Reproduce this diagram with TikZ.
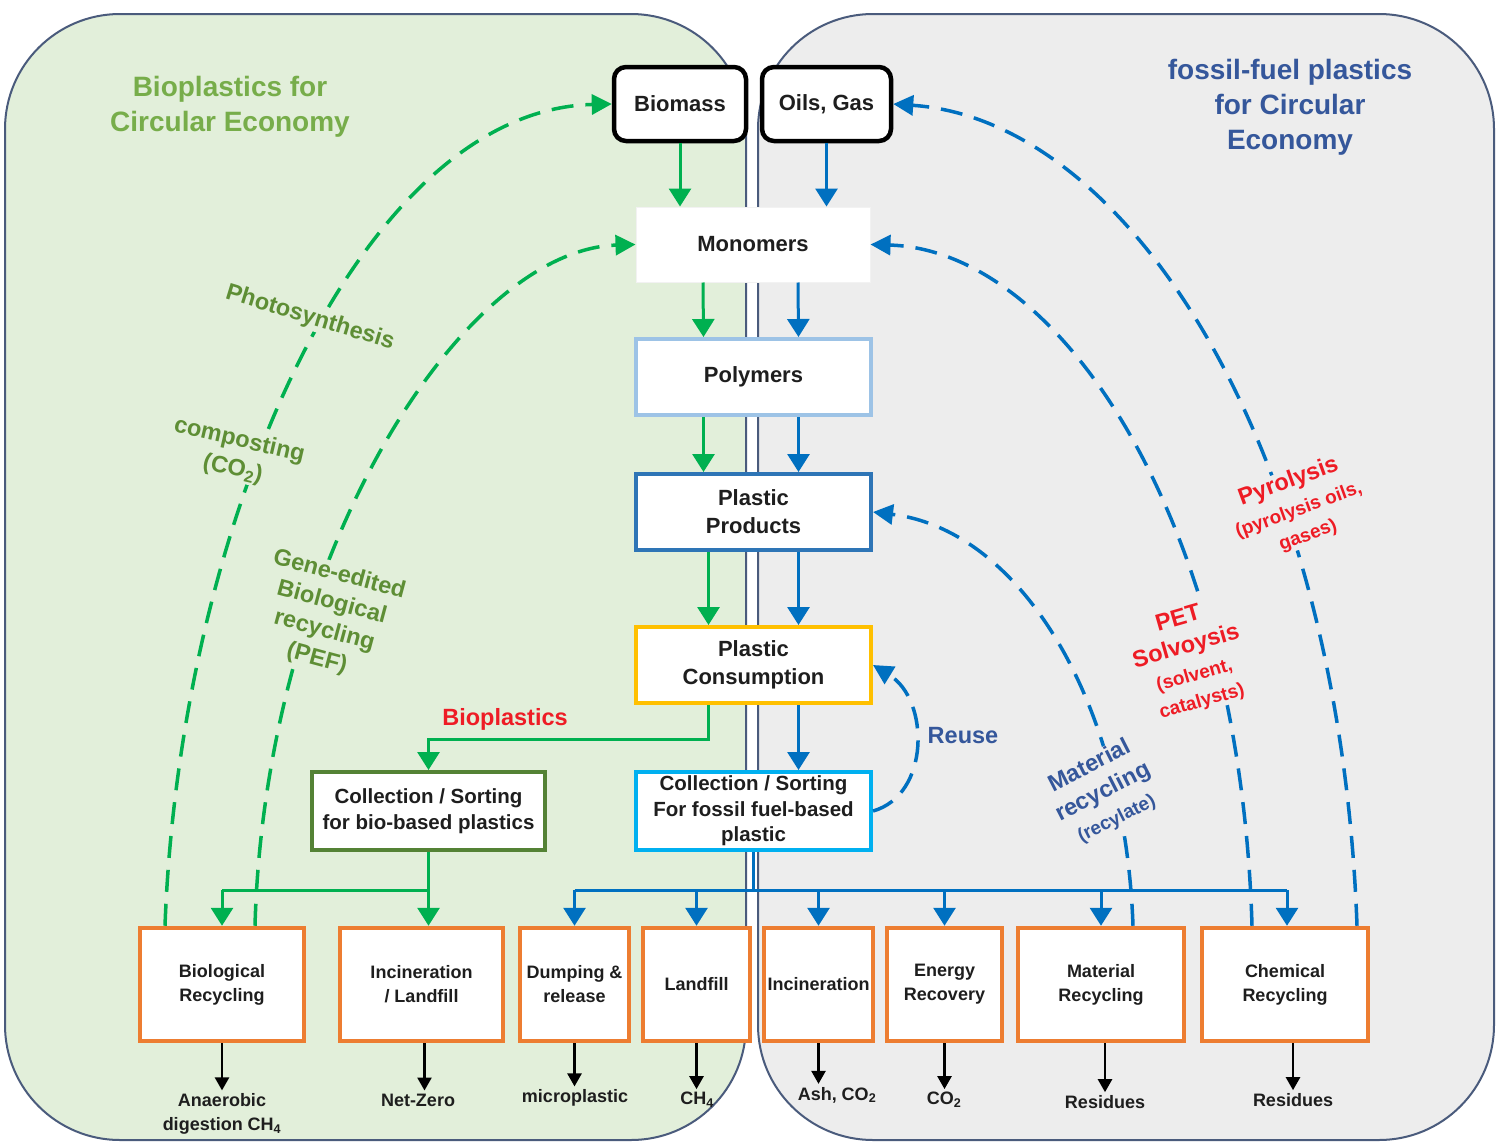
\documentclass[tikz,border=0pt]{standalone}
\usepackage{fontspec}
\setmainfont{Liberation Sans}
\usetikzlibrary{arrows.meta}
\definecolor{gfill}{HTML}{E2EFDA}
\definecolor{rfill}{HTML}{EDEDED}
\definecolor{edge}{HTML}{4A5B7C}
\definecolor{fgreen}{HTML}{00B050}
\definecolor{fblue}{HTML}{0070C0}
\definecolor{tgreen}{HTML}{77AD4A}
\definecolor{lgreen}{HTML}{5E8E35}
\definecolor{tblue}{HTML}{35579B}
\definecolor{tred}{HTML}{EE1C25}
\definecolor{borange}{HTML}{ED7D31}
\definecolor{bpoly}{HTML}{9DC3E6}
\definecolor{bprod}{HTML}{2E75B6}
\definecolor{bcons}{HTML}{FFC000}
\definecolor{bcf}{HTML}{00B0F0}
\definecolor{bcb}{HTML}{548235}
\definecolor{ink}{HTML}{1E1E1E}
\newcommand\fmain{\fontsize{22}{28}\selectfont\bfseries}
\newcommand\fcoll{\fontsize{20.5}{25.5}\selectfont\bfseries}
\newcommand\fsmall{\fontsize{18}{24}\selectfont\bfseries}
\newcommand\flab{\fontsize{23.5}{29}\selectfont\bfseries}
\newcommand\flabs{\fontsize{19}{22}\selectfont\bfseries}
\newcommand\ftitle{\fontsize{28}{35}\selectfont\bfseries}
\tikzset{
  panelbox/.style={draw=edge, line width=2pt, rounded corners=115pt},
  srcbox/.style={draw=black, line width=4.5pt, rounded corners=12pt, fill=white, minimum width=132pt, minimum height=74pt, font=\fmain, text=ink, inner sep=0pt},
  cbox/.style={fill=white, line width=4pt, minimum width=235pt, minimum height=76pt, align=center, font=\fmain, text=ink, inner sep=0pt},
  outbox/.style={draw=borange, fill=white, line width=4.5pt, minimum height=113pt, align=center, font=\fsmall, text=ink, inner sep=0pt},
  outlbl/.style={font=\fsmall, text=ink, align=center, inner sep=3pt},
  gline/.style={draw=fgreen, line width=3pt},
  bline/.style={draw=fblue, line width=3pt},
  garr/.style={gline, -{Triangle[length=18pt,width=22pt]}},
  barr/.style={bline, -{Triangle[length=18pt,width=22pt]}},
  gdash/.style={draw=fgreen, line width=3.5pt, dash pattern=on 22pt off 12pt, -{Triangle[length=20pt,width=20pt]}},
  bdash/.style={draw=fblue, line width=3.5pt, dash pattern=on 22pt off 12pt, -{Triangle[length=20pt,width=20pt]}},
  karr/.style={draw=black, line width=2.5pt, -{Triangle[length=13pt,width=14pt]}},
  lab/.style={font=\flab, align=center, inner sep=1pt},
  titl/.style={font=\ftitle, align=center}
}
\begin{document}
\begin{tikzpicture}[x=1pt,y=-1pt]
\useasboundingbox (0,0) rectangle (1498,1143);
\fill[white] (0,0) rectangle (1498,1143);
% panels
\draw[panelbox, fill=gfill] (5,14) rectangle (746,1140);
\draw[panelbox, fill=rfill] (758,14) rectangle (1494,1140);

% titles
\node[titl, text=tgreen] (t1) at (230,107) {Bioplastics for\\Circular Economy};
\node[titl, text=tblue] (t2) at (1290,107) {fossil-fuel plastics\\for Circular\\Economy};

% central column
\node[srcbox] (bm) at (680,104) {Biomass};
\node[srcbox, minimum width=129pt] (oil) at (826.5,104) {Oils, Gas};
\node[cbox, draw=gray!10, line width=1pt, minimum width=234pt, minimum height=75pt] (mono) at (753,244.5) {Monomers};
\node[cbox, draw=bpoly] (poly) at (753.5,377) {Polymers};
\node[cbox, draw=bprod] (prod) at (753.5,512) {Plastic\\Products};
\node[cbox, draw=bcons] (cons) at (753.5,665) {Plastic\\Consumption};
\node[cbox, draw=bcf, font=\fcoll, minimum height=78pt] (cf) at (753.5,811) {Collection / Sorting\\For fossil fuel-based\\plastic};
\node[cbox, draw=bcb, font=\fcoll, minimum width=233pt, minimum height=78pt] (cb) at (428.5,811) {Collection / Sorting\\for bio-based plastics};

% bottom boxes
\node[outbox, minimum width=164pt] (bio) at (222,984.5) {Biological\\Recycling};
\node[outbox, minimum width=163pt] (il) at (421.5,984.5) {Incineration\\/ Landfill};
\node[outbox, minimum width=109pt] (dump) at (574.5,984.5) {Dumping \&\\release};
\node[outbox, minimum width=107pt] (land) at (696.5,984.5) {Landfill};
\node[outbox, minimum width=109pt] (inc) at (818.5,984.5) {Incineration};
\node[outbox, minimum width=115pt] (ener) at (944.5,984.5) {Energy\\Recovery};
\node[outbox, minimum width=166pt] (mat) at (1101,984.5) {Material\\Recycling};
\node[outbox, minimum width=166pt] (chem) at (1285,984.5) {Chemical\\Recycling};

% outputs
\node[outlbl] (obio) at (222,1114) {Anaerobic\\digestion CH\textsubscript{4}};
\node[outlbl] (oil2) at (418,1100) {Net-Zero};
\node[outlbl] (odump) at (575,1098) {microplastic};
\node[outlbl] (oland) at (697,1100) {CH\textsubscript{4}};
\node[outlbl] (oinc) at (837,1095) {Ash, CO\textsubscript{2}};
\node[outlbl] (oener) at (944,1100) {CO\textsubscript{2}};
\node[outlbl] (omat) at (1105,1102) {Residues};
\node[outlbl] (ochem) at (1293,1100) {Residues};

\draw[karr] (bio.south) -- (bio.south |- obio.north);
\draw[karr] ([xshift=3pt]il.south) -- ([xshift=3pt]il.south |- oil2.north);
\draw[karr] (dump.south) -- (dump.south |- odump.north);
\draw[karr] (land.south) -- (land.south |- oland.north);
\draw[karr] (inc.south) -- (inc.south |- oinc.north);
\draw[karr] (ener.south) -- (ener.south |- oener.north);
\draw[karr] ([xshift=4pt]mat.south) -- ([xshift=4pt]mat.south |- omat.north);
\draw[karr] ([xshift=8pt]chem.south) -- ([xshift=8pt]chem.south |- ochem.north);

% solid flows
\draw[garr] (bm.south) -- (bm.south |- mono.north);
\draw[barr] (oil.south) -- (oil.south |- mono.north);
\draw[garr] ([xshift=-50pt]mono.south) -- ([xshift=-50pt]poly.north);
\draw[barr] ([xshift=45pt]mono.south) -- ([xshift=45pt]poly.north);
\draw[garr] ([xshift=-50pt]poly.south) -- ([xshift=-50pt]prod.north);
\draw[barr] ([xshift=45pt]poly.south) -- ([xshift=45pt]prod.north);
\draw[garr] ([xshift=-45pt]prod.south) -- ([xshift=-45pt]cons.north);
\draw[barr] ([xshift=45pt]prod.south) -- ([xshift=45pt]cons.north);
\draw[barr] ([xshift=45pt]cons.south) -- ([xshift=45pt]cf.north);
\draw[garr] ([xshift=-45pt]cons.south) -- ++(0,34) -| (cb.north);

% bio distribution
\coordinate (gj) at (428.5,890);
\draw[gline] (cb.south) -- (gj);
\draw[gline] (gj -| bio.north) -- (gj);
\draw[garr] (gj -| bio.north) -- (bio.north);
\draw[garr] (gj) -- (gj |- il.north);

% fossil distribution
\coordinate (bj) at (753.5,890);
\draw[bline] (cf.south) -- (bj);
\draw[bline] (bj -| dump.north) -- ([xshift=2pt]bj -| chem.north);
\draw[barr] (bj -| dump.north) -- (dump.north);
\draw[barr] (bj -| land.north) -- (land.north);
\draw[barr] (bj -| inc.north) -- (inc.north);
\draw[barr] (bj -| ener.north) -- (ener.north);
\draw[barr] (bj -| mat.north) -- (mat.north);
\draw[barr] ([xshift=2pt]bj -| chem.north) -- ([xshift=2pt]chem.north);

% dashed return loops
\draw[gdash] ([xshift=-57pt]bio.north) .. controls (180,520) and (360,110) .. (bm.west);
\draw[gdash] ([xshift=33pt]bio.north) .. controls (265,560) and (460,250) .. (mono.west);
\draw[bdash] ([xshift=72pt]chem.north) .. controls (1340,450) and (1130,120) .. (oil.east);
\draw[bdash] ([xshift=-33pt]chem.north) .. controls (1240,520) and (1060,250) .. (mono.east);
\draw[bdash] ([xshift=32pt]mat.north) .. controls (1125,700) and (1020,530) .. (prod.east);
\draw[bdash] (cf.east) .. controls (930,795) and (930,700) .. (cons.east);

% labels
\node[lab, text=lgreen, fill=gfill, rotate=-17] (lphoto) at (310,318) {Photosynthesis};
\node[lab, text=lgreen, fill=gfill, rotate=-13] (lcomp) at (236,455) {composting\\(CO\textsubscript{2})};
\node[lab, text=lgreen, fill=gfill, rotate=-15] (lgene) at (328,617) {Gene-edited\\Biological\\recycling\\(PEF)};
\node[lab, text=tred] (lbio) at (505,719) {Bioplastics};
\node[lab, text=tblue] (lreuse) at (963,736) {Reuse};
\node[lab, text=tred, fill=rfill, rotate=20] (lpyro) at (1298,508) {Pyrolysis\\{\flabs (pyrolysis oils,}\\[-2pt]{\flabs gases)}};
\node[lab, text=tred, fill=rfill, rotate=16] (lpet) at (1190,660) {PET\\Solvoysis\\{\flabs (solvent,}\\[-2pt]{\flabs catalysts)}};
\node[lab, text=tblue, fill=rfill, rotate=27] (lmat) at (1103,792) {Material\\recycling\\{\flabs (recylate)}};
\end{tikzpicture}
\end{document}
